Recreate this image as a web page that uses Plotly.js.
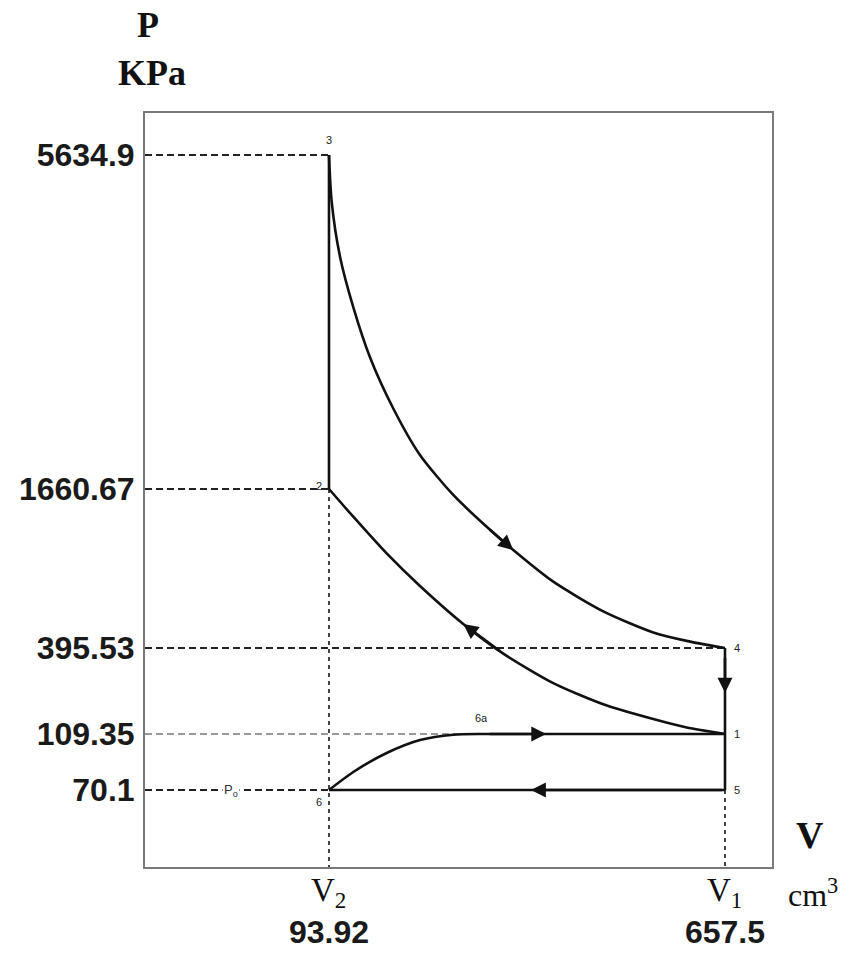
<!DOCTYPE html>
<html>
<head>
<meta charset="utf-8">
<script src="https://cdn.plot.ly/plotly-3.0.1.min.js"></script>
<style>html,body{margin:0;padding:0;background:#fff;}</style>
</head>
<body>
<div id="chart" style="width:850px;height:956px;"></div>
<script>
// ---- Data ----
// Volume ticks (cm^3)
const volumeTicks = [93.92, 657.5];
const volumeNames = ['V<sub>2</sub>', 'V<sub>1</sub>'];
const volumeLabels = ['93.92', '657.5'];

// Pressure ticks (kPa) and their schematic (not-to-scale) heights in the drawing
const pressureLabels = ['70.1', '109.35', '395.53', '1660.67', '5634.9'];
const pressureLevels = [10.21, 17.64, 29.04, 50.13, 94.43];

// Expansion 3 -> 4 (V, schematic level)
const expansionV = [93.92, 97.76, 109.57, 128.5, 152.27, 185.43, 223.42, 270.81, 318.34, 356.2, 413.1, 484.27, 555.43, 602.96, 657.5];
const expansionLevel = [94.43, 88.26, 80.98, 74.26, 67.61, 60.81, 54.64, 49.34, 45.12, 42.04, 37.84, 33.91, 31.11, 29.99, 29.04];

// Compression 2 <- 1 (listed from 2 to 1)
const compressionV = [93.92, 128.5, 176.03, 223.42, 285.05, 341.96, 413.1, 484.27, 555.43, 602.96, 657.5];
const compressionLevel = [50.13, 46.46, 41.59, 37.27, 32.23, 28.30, 24.39, 21.58, 19.62, 18.50, 17.64];

// Intake 6 -> 6a -> 1
const intakeV = [93.92, 128.5, 176.03, 223.42, 270.81, 318.34, 657.5];
const intakeLevel = [10.21, 12.60, 15.12, 16.84, 17.55, 17.64, 17.64];

// ---- Helpers ----
const V2 = volumeTicks[0], V1 = volumeTicks[1];
const L = {p70: pressureLevels[0], p109: pressureLevels[1], p395: pressureLevels[2], p1660: pressureLevels[3], p5634: pressureLevels[4]};
const xRange = [-167.9, 724.4];
const yRange = [0, 100];
const xMin = xRange[0];

const INK = '#111';
const curveLine = {color: INK, width: 2.6, shape: 'spline', smoothing: 0.7};
const straightLine = {color: INK, width: 2.6};
const dashDark = {color: '#222', width: 2, dash: '7px,4px'};
const dashGray = {color: '#9a9a9a', width: 2, dash: '7px,4px'};
const dashVert = {color: '#444', width: 2, dash: '4px,4px'};

function seg(x, y, line) {
  return {type: 'scatter', mode: 'lines', x: x, y: y, line: line, hoverinfo: 'skip'};
}

const traces = [
  // reference (dashed) lines
  seg([xMin, V2], [L.p5634, L.p5634], dashDark),
  seg([xMin, V2], [L.p1660, L.p1660], dashDark),
  seg([xMin, V1], [L.p395, L.p395], dashDark),
  seg([xMin, V1], [L.p109, L.p109], dashGray),
  seg([xMin, V2], [L.p70, L.p70], dashDark),
  seg([V2, V2], [L.p1660, yRange[0]], dashVert),
  seg([V1, V1], [L.p70, yRange[0]], dashVert),
  // cycle
  seg(compressionV, compressionLevel, curveLine),
  seg([V2, V2], [L.p1660, L.p5634], straightLine),
  seg(expansionV, expansionLevel, curveLine),
  seg([V1, V1], [L.p395, L.p70], straightLine),
  seg([V1, V2], [L.p70, L.p70], straightLine),
  seg(intakeV, intakeLevel, curveLine)
];

// ---- Annotations ----
const serif = 'Liberation Serif, Times New Roman, serif';
const sans = 'Liberation Sans, Arial, sans-serif';
const small = {family: sans, size: 11, color: '#222'};

function arrow(tipX, tipY, tailX, tailY) {
  return {x: tipX, y: tipY, ax: tailX, ay: tailY, xref: 'x', yref: 'y', axref: 'x', ayref: 'y',
          text: ' ', showarrow: true, arrowhead: 2, arrowsize: 1.15, arrowwidth: 2.6, arrowcolor: INK, standoff: 0, startstandoff: 0};
}
function label(text, x, y, xs, ys) {
  return {x: x, y: y, xref: 'x', yref: 'y', text: text, showarrow: false, font: small, xshift: xs, yshift: ys,
          xanchor: 'center', yanchor: 'middle'};
}
function paperText(text, x, y, font) {
  return {x: x, y: y, xref: 'paper', yref: 'paper', xanchor: 'center', yanchor: 'middle', text: text, showarrow: false, font: font};
}

const iE = 8, iC = 4;
const introV = intakeV[5] + 0.25 * (V1 - intakeV[5]);
const exhV = V1 - 0.49 * (V1 - V2);
const blowLevel = L.p395 - 0.52 * (L.p395 - L.p109);

const annotations = [
  arrow(expansionV[iE + 1], expansionLevel[iE + 1], expansionV[iE], expansionLevel[iE]),
  arrow(compressionV[iC], compressionLevel[iC], compressionV[iC + 1], compressionLevel[iC + 1]),
  arrow(V1, blowLevel, V1, L.p395),
  arrow(introV, L.p109, intakeV[5], L.p109),
  arrow(exhV, L.p70, V1, L.p70),
  // point labels
  label('3', V2, L.p5634, 0, 15),
  label('2', V2, L.p1660, -10, 3),
  label('4', V1, L.p395, 12, 0),
  label('1', V1, L.p109, 12, 0),
  label('5', V1, L.p70, 12, 0),
  label('6', V2, L.p70, -10, -12),
  label('6a', intakeV[5], L.p109, -5, 16),
  {x: xMin + 0.47 * (V2 - xMin), y: L.p70, xref: 'x', yref: 'y', text: 'P<sub>o</sub>', showarrow: false,
   xanchor: 'center', yanchor: 'middle',
   font: {family: sans, size: 13, color: '#333'}, bgcolor: '#fff', borderpad: 1},
  // volume names under the axis
  {x: volumeTicks[0], y: 0, xref: 'x', yref: 'paper', xanchor: 'center', yanchor: 'middle', yshift: -25, text: volumeNames[0], showarrow: false,
   font: {family: serif, size: 33, color: '#111'}},
  {x: volumeTicks[1], y: 0, xref: 'x', yref: 'paper', xanchor: 'center', yanchor: 'middle', yshift: -25, text: volumeNames[1], showarrow: false,
   font: {family: serif, size: 33, color: '#111'}},
  // axis titles
  paperText('<b>P</b>', 0.005, 1.1167, {family: serif, size: 36, color: '#111'}),
  paperText('<b>KPa</b>', 0.011, 1.053, {family: serif, size: 36, color: '#111'}),
  paperText('<b>V</b>', 1.0606, 0.0424, {family: serif, size: 38, color: '#111'}),
  paperText('cm<sup>3</sup>', 1.0654, -0.0345, {family: serif, size: 32, color: '#111'})
];

const layout = {
  width: 850, height: 956,
  margin: {l: 145, r: 78, t: 113, b: 89, pad: 0},
  paper_bgcolor: '#fff', plot_bgcolor: '#fff',
  showlegend: false,
  xaxis: {
    range: xRange, showgrid: false, zeroline: false,
    showline: true, mirror: true, linecolor: '#7a7a7a', linewidth: 2,
    ticks: '', tickvals: volumeTicks, ticktext: volumeLabels,
    ticklabelstandoff: 36,
    tickfont: {family: sans, size: 32, color: '#1a1a1a', weight: 'bold'}
  },
  yaxis: {
    range: yRange, showgrid: false, zeroline: false,
    showline: true, mirror: true, linecolor: '#7a7a7a', linewidth: 2,
    ticks: '', tickvals: pressureLevels, ticktext: pressureLabels,
    ticklabelstandoff: 2,
    tickfont: {family: sans, size: 32, color: '#1a1a1a', weight: 'bold'}
  },
  annotations: annotations
};

Plotly.newPlot('chart', traces, layout, {staticPlot: true, displayModeBar: false});
</script>
</body>
</html>
